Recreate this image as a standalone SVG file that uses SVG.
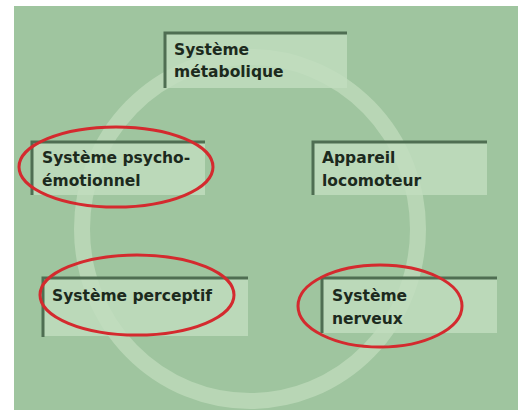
<svg xmlns="http://www.w3.org/2000/svg" width="518" height="410" viewBox="0 0 518 410">
<style>
.box{fill:#c2ddbf;fill-opacity:0.8}
.edge{stroke:#4f6e52;stroke-width:3;fill:none}
.lbl{font-family:"DejaVu Sans",Verdana,sans-serif;font-weight:bold;font-size:15.5px;fill:#1c2a1d}
.hl{fill:none;stroke:#d42a2e;stroke-width:3}
</style>
<rect x="0" y="0" width="518" height="410" fill="#ffffff"/>
<rect x="14" y="6" width="504" height="404" fill="#9fc59f"/>
<g id="ring">
<ellipse cx="250" cy="229" rx="168" ry="172" fill="none" stroke="#b8d6b5" stroke-width="16"/>
</g>
<g id="metabolique">
<rect class="box" x="165" y="33" width="182" height="55"/>
<path class="edge" d="M165 88V33H347"/>
<text class="lbl" x="174" y="55">Système</text>
<text class="lbl" x="174" y="77">métabolique</text>
</g>
<g id="psycho">
<rect class="box" x="32" y="142" width="173" height="53"/>
<path class="edge" d="M32 195V142H205"/>
<text class="lbl" x="42" y="163">Système psycho-</text>
<text class="lbl" x="42" y="186">émotionnel</text>
</g>
<g id="locomoteur">
<rect class="box" x="313" y="142" width="174" height="53"/>
<path class="edge" d="M313 195V142H487"/>
<text class="lbl" x="322" y="163">Appareil</text>
<text class="lbl" x="322" y="186">locomoteur</text>
</g>
<g id="perceptif">
<rect class="box" x="43" y="278" width="205" height="58"/>
<path class="edge" d="M43 337V278H248"/>
<text class="lbl" x="52" y="301">Système perceptif</text>
</g>
<g id="nerveux">
<rect class="box" x="322" y="278" width="175" height="55"/>
<path class="edge" d="M322 333V278H497"/>
<text class="lbl" x="332" y="301">Système</text>
<text class="lbl" x="332" y="324">nerveux</text>
</g>
<g id="highlights">
<ellipse class="hl" cx="116" cy="167" rx="97" ry="40"/>
<ellipse class="hl" cx="137" cy="295" rx="97" ry="40"/>
<ellipse class="hl" cx="380" cy="306" rx="82" ry="41"/>
</g>
</svg>
